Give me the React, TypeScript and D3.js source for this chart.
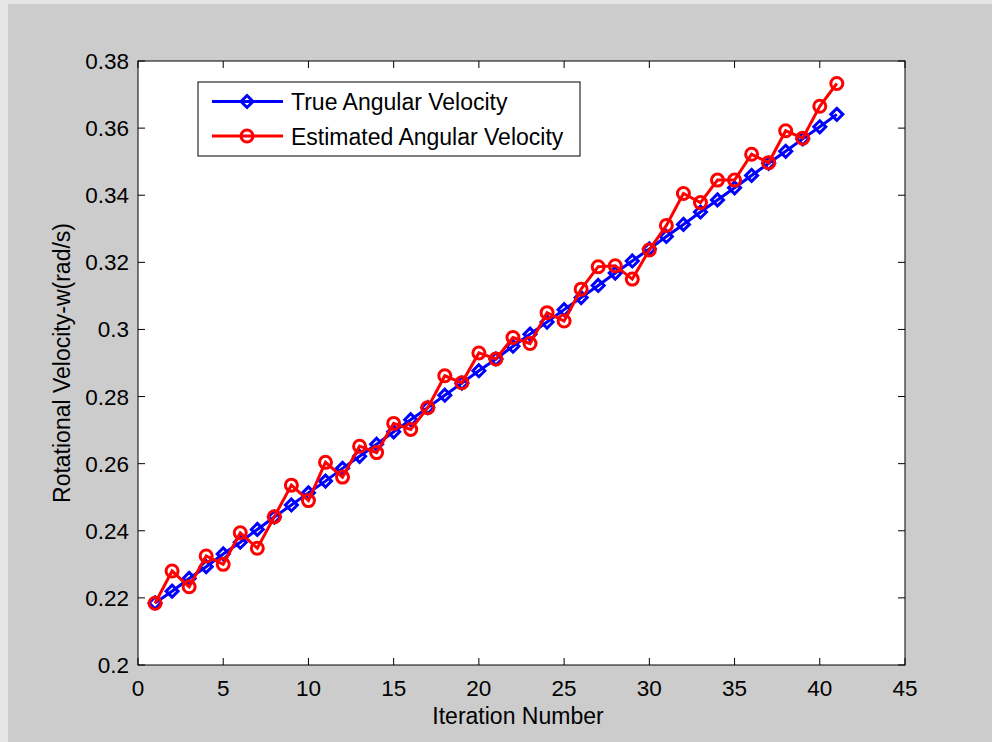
import React from "react";
import * as d3 from "d3";

const iterations = [1,2,3,4,5,6,7,8,9,10,11,12,13,14,15,16,17,18,19,20,21,22,23,24,25,26,27,28,29,30,31,32,33,34,35,36,37,38,39,40,41];
const trueVelocity = [0.2185,0.2220,0.2258,0.2293,0.2331,0.2366,0.2404,0.2441,0.2477,0.2513,0.2548,0.2586,0.2622,0.2658,0.2695,0.2731,0.2767,0.2804,0.2840,0.2877,0.2912,0.2950,0.2986,0.3022,0.3059,0.3095,0.3131,0.3168,0.3204,0.3240,0.3277,0.3313,0.3350,0.3386,0.3422,0.3459,0.3495,0.3531,0.3568,0.3604,0.3641];
const estimatedVelocity = [0.2184,0.2280,0.2233,0.2325,0.2300,0.2394,0.2348,0.2442,0.2536,0.2490,0.2604,0.2560,0.2652,0.2633,0.2720,0.2702,0.2767,0.2862,0.2841,0.2930,0.2912,0.2976,0.2958,0.3050,0.3025,0.3120,0.3187,0.3190,0.3150,0.3237,0.3310,0.3405,0.3378,0.3445,0.3445,0.3522,0.3497,0.3592,0.3570,0.3665,0.3733];
const xTicks = [0,5,10,15,20,25,30,35,40,45];
const yTicks = [0.2,0.22,0.24,0.26,0.28,0.3,0.32,0.34,0.36,0.38];
const seriesNames = ["True Angular Velocity", "Estimated Angular Velocity"];
const xLabel = "Iteration Number";
const yLabel = "Rotational Velocity-w(rad/s)";

const W = 992, H = 742;
const L = 138, R = 905, T = 61, B = 665;
const FONT = "'Liberation Sans', Arial, Helvetica, sans-serif";

export default function App() {
  const x = d3.scaleLinear().domain([0, 45]).range([L, R]);
  const y = d3.scaleLinear().domain([0.2, 0.38]).range([B, T]);
  const line = d3.line<number>().x((_, i) => x(iterations[i])).y((d) => y(d));
  const tk = 7;
  const diamond = (cx: number, cy: number, r: number) =>
    `M${cx},${cy - r}L${cx + r},${cy}L${cx},${cy + r}L${cx - r},${cy}Z`;

  const legX = 198, legY = 82, legW = 382, legH = 74;
  const rows = [legY + 19.5, legY + 54];

  return (
    <svg width={W} height={H} style={{ position: "absolute", left: 0, top: 0 }} fontFamily={FONT}>
      <rect x={0} y={0} width={W} height={H} fill="#e6e6e6" />
      <rect x={8} y={4} width={W - 8} height={H - 4} fill="#cccccc" />
      <rect x={L} y={T} width={R - L} height={B - T} fill="#ffffff" />

      {/* ticks */}
      {xTicks.map((t) => (
        <g key={"xt" + t}>
          <line x1={x(t)} x2={x(t)} y1={B} y2={B - tk} stroke="#000" strokeWidth={1} />
          <line x1={x(t)} x2={x(t)} y1={T} y2={T + tk} stroke="#000" strokeWidth={1} />
          <text x={x(t)} y={B + 31} fontSize={22.5} textAnchor="middle" fill="#000">{t}</text>
        </g>
      ))}
      {yTicks.map((t) => (
        <g key={"yt" + t}>
          <line x1={L} x2={L + tk} y1={y(t)} y2={y(t)} stroke="#000" strokeWidth={1} />
          <line x1={R} x2={R - tk} y1={y(t)} y2={y(t)} stroke="#000" strokeWidth={1} />
          <text x={L - 9} y={y(t) + 8} fontSize={22.5} textAnchor="end" fill="#000">{String(t)}</text>
        </g>
      ))}
      <rect x={L} y={T} width={R - L} height={B - T} fill="none" stroke="#000" strokeWidth={1} />

      {/* series */}
      <path d={line(trueVelocity) || ""} fill="none" stroke="#0000ff" strokeWidth={3} />
      {trueVelocity.map((v, i) => (
        <path key={"d" + i} d={diamond(x(iterations[i]), y(v), 6)} fill="none" stroke="#0000ff" strokeWidth={3} />
      ))}
      <path d={line(estimatedVelocity) || ""} fill="none" stroke="#ff0000" strokeWidth={3} />
      {estimatedVelocity.map((v, i) => (
        <circle key={"c" + i} cx={x(iterations[i])} cy={y(v)} r={6} fill="none" stroke="#ff0000" strokeWidth={3} />
      ))}

      {/* legend */}
      <rect x={legX} y={legY} width={legW} height={legH} fill="#ffffff" stroke="#000" strokeWidth={1} />
      <line x1={212} x2={283} y1={rows[0]} y2={rows[0]} stroke="#0000ff" strokeWidth={3} />
      <path d={diamond(247, rows[0], 6)} fill="none" stroke="#0000ff" strokeWidth={3} />
      <text x={291} y={rows[0] + 8.5} fontSize={23} fill="#000">{seriesNames[0]}</text>
      <line x1={212} x2={283} y1={rows[1]} y2={rows[1]} stroke="#ff0000" strokeWidth={3} />
      <circle cx={247} cy={rows[1]} r={6} fill="none" stroke="#ff0000" strokeWidth={3} />
      <text x={291} y={rows[1] + 8.5} fontSize={23} fill="#000">{seriesNames[1]}</text>

      {/* axis labels */}
      <text x={518} y={724} fontSize={23} textAnchor="middle" fill="#000">{xLabel}</text>
      <text transform={`translate(70, ${(T + B) / 2}) rotate(-90)`} fontSize={23} textAnchor="middle" fill="#000">{yLabel}</text>
    </svg>
  );
}
